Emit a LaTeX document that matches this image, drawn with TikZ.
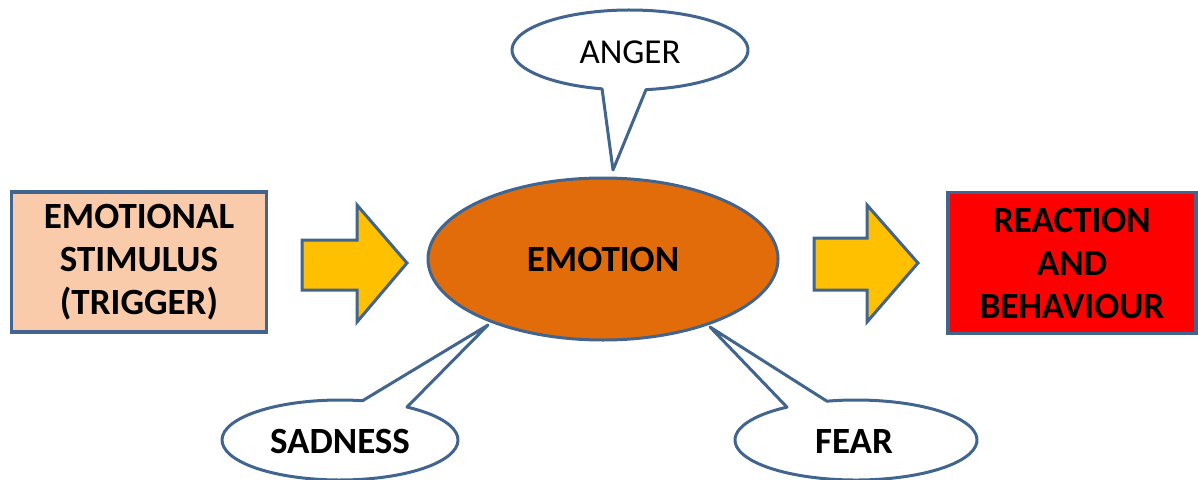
\documentclass[tikz,border=0pt]{standalone}
\usepackage{fontspec}
\setmainfont{Carlito}
\usetikzlibrary{shapes.geometric}

\definecolor{edgeblue}{HTML}{41658F}
\definecolor{peach}{HTML}{F9CBAA}
\definecolor{emoorange}{HTML}{E36C0A}
\definecolor{arrowgold}{HTML}{FFC000}
\definecolor{reactred}{HTML}{FF0000}

\tikzset{
  bigtext/.style={font=\fontsize{37}{43}\selectfont\bfseries, text=black, align=center},
  stimbox/.style={draw=edgeblue, line width=3.2pt, fill=peach, minimum width=255, minimum height=140, bigtext},
  reactbox/.style={draw=edgeblue, line width=3.2pt, fill=reactred, minimum width=248, minimum height=141, bigtext},
  emoellipse/.style={ellipse, draw=edgeblue, line width=3pt, fill=emoorange, minimum width=350, minimum height=162, bigtext},
  flowarrow/.style={draw=edgeblue, line width=3pt, fill=arrowgold, line join=miter},
  bubble/.style={draw=edgeblue, line width=3pt, fill=white, line join=round},
  bubbletext/.style={font=\fontsize{35}{43}\selectfont, text=black},
  boldbubbletext/.style={font=\fontsize{37}{43}\selectfont\bfseries, text=black},
}

\begin{document}
\begin{tikzpicture}[x=1pt, y=-1pt]
  \useasboundingbox (0,0) rectangle (1198,479);

  % speech bubbles: ellipse outline running into a pointed tail
  \draw[bubble] (630,50) ++(103.7:118 and 40) arc[start angle=103.7, end angle=442.2, x radius=118, y radius=40]
    -- (613,170) -- cycle;
  \draw[bubble] (340,440) ++(-55.4:118 and 40) arc[start angle=-55.4, end angle=281, x radius=118, y radius=40]
    -- (488,325) -- cycle;
  \draw[bubble] (856,440) ++(-103.9:121 and 40) arc[start angle=-103.9, end angle=235.2, x radius=121, y radius=40]
    -- (710,327) -- cycle;

  \node[bubbletext] (anger) at (630,52) {ANGER};
  \node[boldbubbletext] (sadness) at (340,441) {SADNESS};
  \node[boldbubbletext] (fear) at (854,441) {FEAR};

  % main flow
  \node[stimbox] (stim) at (139,262) {EMOTIONAL\\STIMULUS\\(TRIGGER)};
  \node[emoellipse] (emo) at (603,259) {EMOTION};
  \node[reactbox] (react) at (1072,263) {REACTION\\AND\\BEHAVIOUR};

  % block arrows between the stages
  \draw[flowarrow] (302,240) -- (357,240) -- (357,205) -- (407,263) -- (357,322) -- (357,290) -- (302,290) -- cycle;
  \draw[flowarrow] (814,238) -- (867,238) -- (867,205) -- (918,263) -- (867,322) -- (867,290) -- (814,290) -- cycle;
\end{tikzpicture}
\end{document}
